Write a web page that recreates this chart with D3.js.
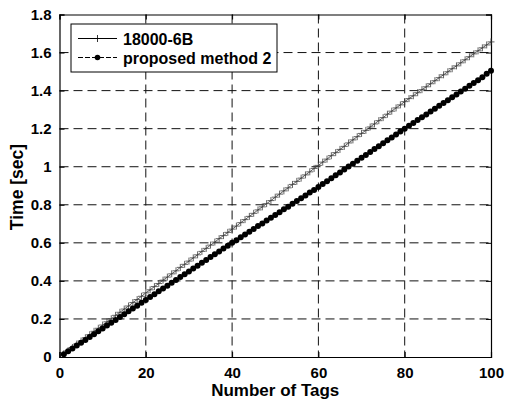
<!DOCTYPE html>
<html>
<head>
<meta charset="utf-8">
<script src="https://cdn.jsdelivr.net/npm/d3@7"></script>
<style>
  body { margin: 0; background: #fff; }
  svg { display: block; font-family: "Liberation Sans", Arial, sans-serif; font-weight: bold; }
</style>
</head>
<body>
<svg id="chart"></svg>
<script>
const xTicks = [0, 20, 40, 60, 80, 100];
const yTicks = [0, 0.2, 0.4, 0.6, 0.8, 1, 1.2, 1.4, 1.6, 1.8];
const seriesNames = ['18000-6B', 'proposed method 2'];

const tags = d3.range(1, 101);

const std6B = [
  0.017, 0.034, 0.050, 0.068, 0.084, 0.101, 0.117, 0.135, 0.151, 0.168,
  0.185, 0.201, 0.219, 0.235, 0.252, 0.268, 0.286, 0.302, 0.319, 0.337,
  0.353, 0.370, 0.386, 0.404, 0.420, 0.437, 0.453, 0.471, 0.487, 0.504,
  0.521, 0.537, 0.555, 0.571, 0.588, 0.604, 0.622, 0.638, 0.655, 0.672,
  0.688, 0.706, 0.722, 0.739, 0.755, 0.773, 0.789, 0.806, 0.822, 0.840,
  0.856, 0.873, 0.889, 0.907, 0.923, 0.940, 0.957, 0.973, 0.991, 1.007,
  1.024, 1.040, 1.058, 1.074, 1.091, 1.107, 1.125, 1.141, 1.158, 1.175,
  1.191, 1.209, 1.225, 1.242, 1.258, 1.276, 1.292, 1.309, 1.325, 1.342,
  1.358, 1.373, 1.389, 1.405, 1.420, 1.436, 1.452, 1.468, 1.483, 1.499,
  1.515, 1.530, 1.546, 1.562, 1.578, 1.593, 1.609, 1.625, 1.640, 1.656
];

const proposed2 = [
  0.015, 0.030, 0.045, 0.060, 0.075, 0.090, 0.105, 0.120, 0.135, 0.150,
  0.165, 0.180, 0.195, 0.210, 0.225, 0.240, 0.255, 0.270, 0.285, 0.300,
  0.315, 0.330, 0.345, 0.360, 0.375, 0.390, 0.405, 0.420, 0.435, 0.450,
  0.465, 0.480, 0.495, 0.510, 0.525, 0.540, 0.555, 0.570, 0.585, 0.600,
  0.614, 0.629, 0.644, 0.658, 0.673, 0.688, 0.702, 0.717, 0.732, 0.746,
  0.761, 0.776, 0.790, 0.805, 0.820, 0.834, 0.849, 0.864, 0.878, 0.893,
  0.909, 0.924, 0.940, 0.955, 0.970, 0.986, 1.001, 1.016, 1.032, 1.047,
  1.062, 1.078, 1.093, 1.108, 1.124, 1.139, 1.154, 1.170, 1.185, 1.200,
  1.215, 1.230, 1.245, 1.260, 1.275, 1.290, 1.305, 1.320, 1.335, 1.350,
  1.365, 1.380, 1.395, 1.410, 1.425, 1.440, 1.455, 1.470, 1.488, 1.505
];

const width = 505, height = 402;
const margin = { top: 14.5, right: 14, bottom: 45, left: 59.5 };
const innerW = width - margin.left - margin.right;
const innerH = height - margin.top - margin.bottom;

const svg = d3.select('#chart').attr('width', width).attr('height', height);
const g = svg.append('g').attr('transform', `translate(${margin.left},${margin.top})`);

const x = d3.scaleLinear().domain([0, 100]).range([0, innerW]);
const y = d3.scaleLinear().domain([0, 1.8]).range([innerH, 0]);

// dashed grid
g.append('g').selectAll('line').data(xTicks.slice(1, -1)).join('line')
  .attr('x1', d => x(d)).attr('x2', d => x(d))
  .attr('y1', 0).attr('y2', innerH)
  .attr('stroke', '#111').attr('stroke-width', 1).attr('stroke-dasharray', '9,5');
g.append('g').selectAll('line').data(yTicks.slice(1, -1)).join('line')
  .attr('x1', 0).attr('x2', innerW)
  .attr('y1', d => y(d)).attr('y2', d => y(d))
  .attr('stroke', '#111').attr('stroke-width', 1).attr('stroke-dasharray', '9,5');

// axes with inward ticks
const xAxis = g.append('g').attr('transform', `translate(0,${innerH})`)
  .call(d3.axisBottom(x).tickValues(xTicks).tickSize(-5).tickPadding(10).tickFormat(d3.format('d')));
const yAxis = g.append('g')
  .call(d3.axisLeft(y).tickValues(yTicks).tickSize(-5).tickPadding(8).tickFormat(d => d3.format('~g')(d)));
g.append('g').call(d3.axisTop(x).tickValues(xTicks).tickSize(-5).tickFormat(''));
g.append('g').attr('transform', `translate(${innerW},0)`)
  .call(d3.axisRight(y).tickValues(yTicks).tickSize(-5).tickFormat(''));
g.selectAll('.domain').attr('stroke', '#000').attr('stroke-width', 1.2);
g.selectAll('.tick line').attr('stroke', '#000');
[xAxis, yAxis].forEach(a => a.selectAll('text')
  .attr('font-size', 15).attr('font-weight', 'bold').attr('fill', '#000')
  .attr('font-family', '"Liberation Sans", Arial, sans-serif'));

// series
const line = d3.line().x((d, i) => x(tags[i])).y(d => y(d));

g.append('path').datum(std6B)
  .attr('fill', 'none').attr('stroke', '#333').attr('stroke-width', 0.8).attr('d', line);
g.append('g').selectAll('path').data(std6B).join('path')
  .attr('d', (d, i) => {
    const cx = x(tags[i]), cy = y(d), s = 3.5;
    return `M${cx - s},${cy}H${cx + s}M${cx},${cy - s}V${cy + s}`;
  })
  .attr('stroke', '#3a3a3a').attr('stroke-width', 0.8);

g.append('path').datum(proposed2)
  .attr('fill', 'none').attr('stroke', '#000').attr('stroke-width', 1.2).attr('d', line);
g.append('g').selectAll('circle').data(proposed2).join('circle')
  .attr('cx', (d, i) => x(tags[i])).attr('cy', d => y(d)).attr('r', 3)
  .attr('fill', '#000');

// legend
const leg = svg.append('g').attr('transform', 'translate(71,24)');
leg.append('rect').attr('width', 206).attr('height', 48)
  .attr('fill', '#fff').attr('stroke', '#000').attr('stroke-width', 1);
const row1 = leg.append('g').attr('transform', 'translate(0,14.5)');
row1.append('line').attr('x1', 7).attr('x2', 46).attr('stroke', '#000').attr('stroke-width', 1);
row1.append('path').attr('d', 'M23,0H30M26.5,-3.5V3.5').attr('stroke', '#000').attr('stroke-width', 0.8);
row1.append('text').attr('x', 52).attr('y', 6).attr('font-size', 16).text(seriesNames[0]);
const row2 = leg.append('g').attr('transform', 'translate(0,33.5)');
row2.append('line').attr('x1', 7).attr('x2', 46).attr('stroke', '#000').attr('stroke-width', 1)
  .attr('stroke-dasharray', '5,2');
row2.append('circle').attr('cx', 26.5).attr('cy', 0).attr('r', 2.8).attr('fill', '#000');
row2.append('text').attr('x', 52).attr('y', 6).attr('font-size', 16).text(seriesNames[1]);

// axis titles
svg.append('text').attr('x', margin.left + innerW / 2).attr('y', 396)
  .attr('text-anchor', 'middle').attr('font-size', 17).text('Number of Tags');
svg.append('text').attr('transform', 'translate(23,187) rotate(-90)')
  .attr('text-anchor', 'middle').attr('font-size', 17.5).text('Time [sec]');
</script>
</body>
</html>
